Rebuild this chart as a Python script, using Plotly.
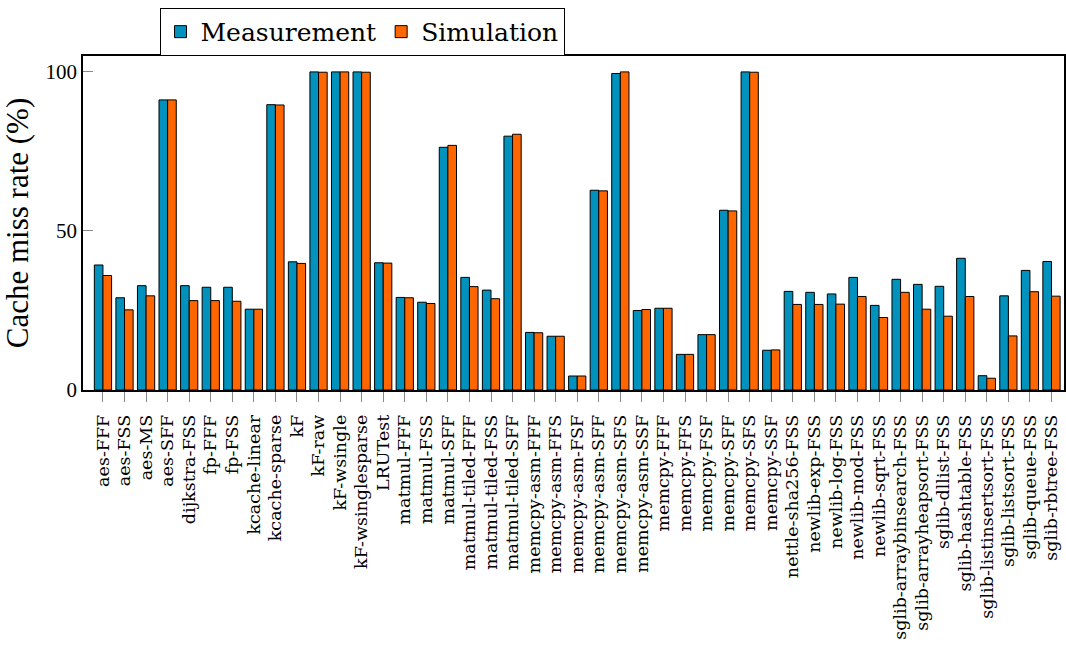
import plotly.graph_objects as go

categories = [
    "aes-FFF", "aes-FSS", "aes-MS", "aes-SFF", "dijkstra-FSS", "fp-FFF", "fp-FSS",
    "kcache-linear", "kcache-sparse", "kF", "kF-raw", "kF-wsingle", "kF-wsinglesparse",
    "LRUTest", "matmul-FFF", "matmul-FSS", "matmul-SFF", "matmul-tiled-FFF",
    "matmul-tiled-FSS", "matmul-tiled-SFF", "memcpy-asm-FFF", "memcpy-asm-FFS",
    "memcpy-asm-FSF", "memcpy-asm-SFF", "memcpy-asm-SFS", "memcpy-asm-SSF",
    "memcpy-FFF", "memcpy-FFS", "memcpy-FSF", "memcpy-SFF", "memcpy-SFS", "memcpy-SSF",
    "nettle-sha256-FSS", "newlib-exp-FSS", "newlib-log-FSS", "newlib-mod-FSS",
    "newlib-sqrt-FSS", "sglib-arraybinsearch-FSS", "sglib-arrayheapsort-FSS",
    "sglib-dllist-FSS", "sglib-hashtable-FSS", "sglib-listinsertsort-FSS",
    "sglib-listsort-FSS", "sglib-queue-FSS", "sglib-rbtree-FSS",
]

measurement = [
    39.3, 29.0, 32.8, 91.2, 32.8, 32.3, 32.3,
    25.4, 89.7, 40.3, 100.0, 100.0, 100.0,
    40.0, 29.1, 27.6, 76.3, 35.4,
    31.4, 79.8, 18.1, 16.9,
    4.4, 62.8, 99.5, 25.0,
    25.7, 11.2, 17.4, 56.5, 100.0, 12.5,
    31.0, 30.7, 30.2, 35.4,
    26.6, 34.8, 33.2,
    32.6, 41.4, 4.5,
    29.6, 37.6, 40.4,
]

simulation = [
    36.0, 25.2, 29.6, 91.2, 28.1, 28.1, 27.9,
    25.4, 89.6, 39.8, 99.9, 100.0, 99.9,
    39.9, 29.0, 27.2, 76.9, 32.5,
    28.7, 80.4, 18.0, 16.9,
    4.4, 62.6, 100.0, 25.3,
    25.7, 11.2, 17.4, 56.3, 99.9, 12.6,
    26.9, 26.9, 27.0, 29.4,
    22.8, 30.7, 25.4,
    23.2, 29.4, 3.7,
    17.0, 30.9, 29.5,
]

y_ticks = [0, 50, 100]

BLUE = "#0091BD"
ORANGE = "#FF6600"
FONT = "Liberation Serif"
FONT2 = "DejaVu Serif"

x_idx = list(range(len(categories)))

fig = go.Figure()
fig.add_trace(go.Bar(
    x=x_idx, y=measurement, name="Measurement",
    marker=dict(color=BLUE, line=dict(color="black", width=1)),
))
fig.add_trace(go.Bar(
    x=x_idx, y=simulation, name="Simulation",
    marker=dict(color=ORANGE, line=dict(color="black", width=1)),
))

fig.update_layout(
    width=1066, height=647,
    margin=dict(l=83, r=0, t=56, b=257),
    paper_bgcolor="white", plot_bgcolor="white",
    barmode="group", bargap=0.2, bargroupgap=0.0,
    font=dict(family=FONT, color="black"),
    showlegend=True,
    legend=dict(
        orientation="h",
        x=0.078, xanchor="left",
        y=1.144, yanchor="top",
        bordercolor="black", borderwidth=1,
        bgcolor="white",
        font=dict(family=FONT2, size=25, color="black"),
        itemwidth=30,
        tracegroupgap=0,
    ),
)

fig.update_xaxes(
    range=[-0.926, 44.58],
    tickmode="array", tickvals=x_idx, ticktext=categories,
    tickangle=-90,
    ticks="outside", ticklen=10, tickcolor="#888888", tickwidth=1,
    ticklabelstandoff=6,
    tickfont=dict(family=FONT2, size=17.5, color="black"),
    showline=True, linecolor="black", linewidth=1.5, mirror=True,
    showgrid=False, zeroline=False,
)
fig.update_yaxes(
    range=[0, 105],
    tickmode="array", tickvals=y_ticks, ticktext=[str(v) for v in y_ticks],
    ticks="inside", ticklen=10, tickcolor="#888888", tickwidth=1,
    tickfont=dict(family=FONT, size=21, color="black"),
    showline=True, linecolor="black", linewidth=1.5, mirror=True,
    showgrid=False, zeroline=False,
    title=dict(text="Cache miss rate (%)", font=dict(family=FONT, size=31, color="black"), standoff=12),
)

fig.write_html("out.html")
